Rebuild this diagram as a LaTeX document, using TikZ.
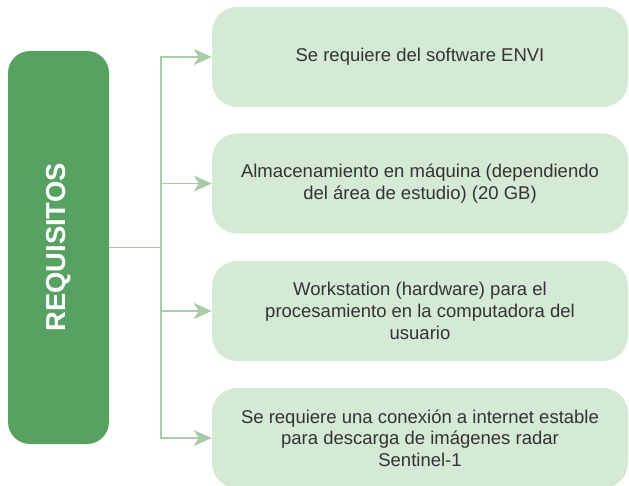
\documentclass[tikz,border=0pt]{standalone}
\usepackage{fontspec}
\setmainfont{Liberation Sans}
\usetikzlibrary{arrows.meta}
\definecolor{darkg}{HTML}{57A263}
\definecolor{lightg}{HTML}{D4EAD5}
\definecolor{lineg}{HTML}{A8CBA8}
\definecolor{txt}{HTML}{333333}
\begin{document}
\begin{tikzpicture}[x=1pt,y=-1pt,
  reqbox/.style={fill=darkg, rounded corners=22pt, minimum width=101pt, minimum height=393pt, inner sep=0pt},
  itembox/.style={fill=lightg, rounded corners=25pt, minimum width=416pt, minimum height=100pt, inner sep=0pt,
    text=txt, align=center, font=\fontsize{18.5}{21.7}\selectfont},
  conn/.style={draw=lineg, line width=1.5pt},
  arr/.style={conn, -{Stealth[length=18pt,width=16pt,inset=5pt]}}]
\useasboundingbox (0,0) rectangle (629,486);
\node[reqbox] (req) at (58.5,247.5) {};
\node[rotate=90, text=white, font=\fontsize{27.4}{30}\selectfont\bfseries] (reqt) at (58.5,247.5) {REQUISITOS};
\node[itembox] (b1) at (420,57) {Se requiere del software ENVI};
\node[itembox] (b2) at (420,183.5) {Almacenamiento en máquina (dependiendo\\del área de estudio) (20 GB)};
\node[itembox] (b3) at (420,311) {Workstation (hardware) para el\\procesamiento en la computadora del\\usuario};
\node[itembox] (b4) at (420,438) {Se requiere una conexión a internet estable\\para descarga de imágenes radar\\Sentinel-1};
\coordinate (bus) at (161,247.5);
\draw[conn] (req.east) -- (bus);
\foreach \b in {b1,b2,b3,b4} \draw[arr] (bus) |- (\b.west);
\end{tikzpicture}
\end{document}
